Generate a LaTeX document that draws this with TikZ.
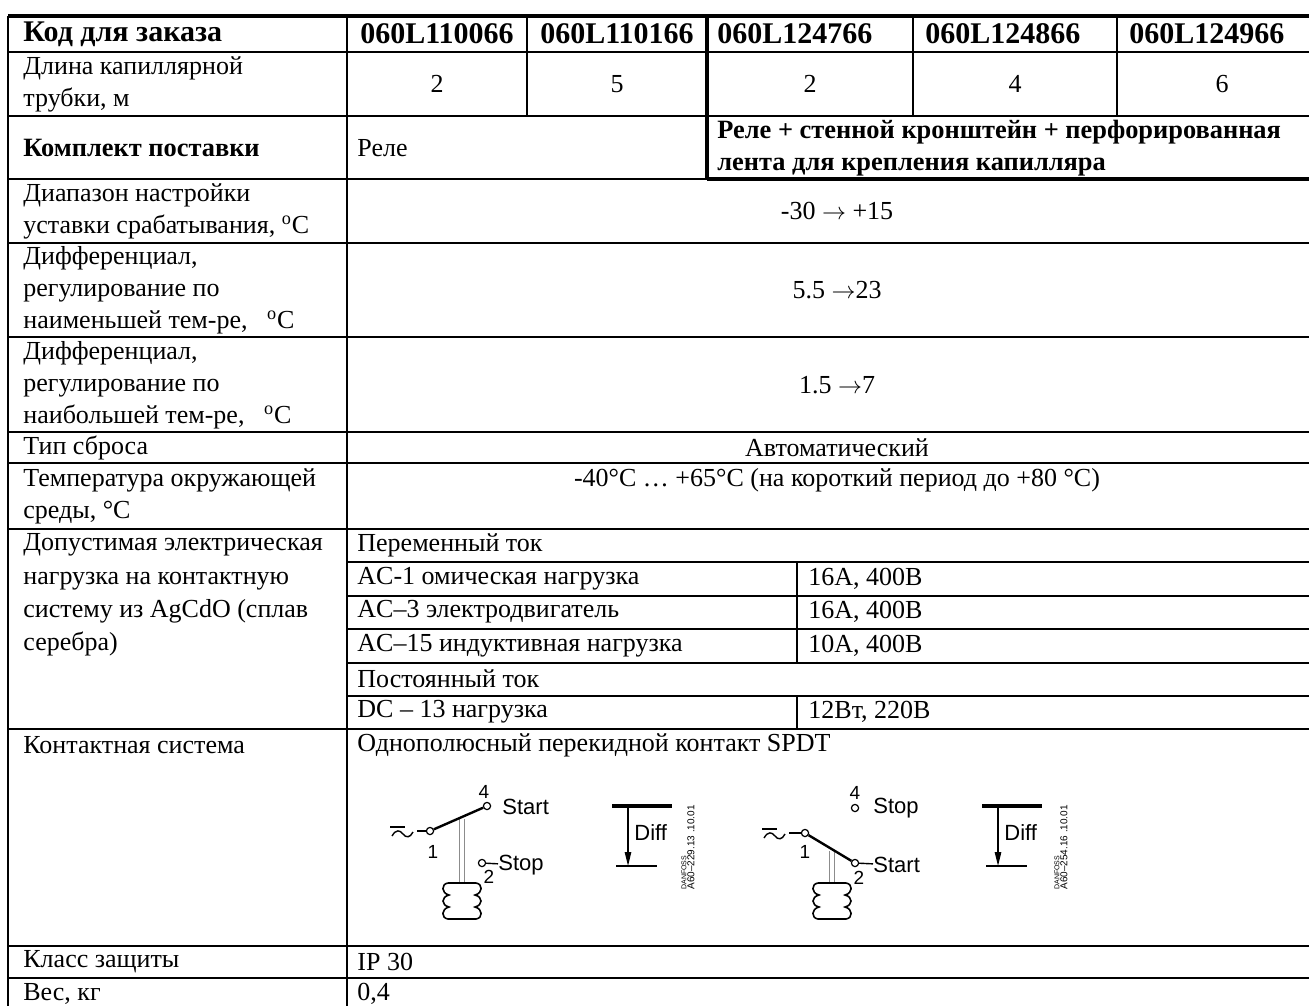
\documentclass[tikz,border=0pt]{standalone}
\usepackage{fontspec}
\setmainfont{Liberation Serif}
\newfontfamily\schemefont{Liberation Sans}
\usetikzlibrary{arrows.meta}

\begin{document}
\begin{tikzpicture}
  [x=0.5pt,y=-0.5pt,every node/.style={inner sep=0pt,anchor=west,font=\fontsize{13}{16}\selectfont}]
  \tikzstyle{rule} = [line width=1pt]
  \tikzstyle{heavy} = [line width=2pt]
  \tikzstyle{head} = [font=\fontsize{15}{16}\selectfont\bfseries]
  \tikzstyle{bold} = [font=\fontsize{13.2}{16}\selectfont\bfseries]
  \tikzstyle{mid} = [anchor=center]
  \tikzstyle{contact} = [circle,draw,anchor=center,minimum size=3.6pt,line width=0.6pt]
  \tikzstyle{lbl} = [font=\schemefont\fontsize{11}{12}\selectfont]
  \tikzstyle{num} = [anchor=center,font=\schemefont\fontsize{9.5}{10}\selectfont]
  \tikzstyle{stamp} = [rotate=90,font=\schemefont\fontsize{5}{6}\selectfont]
  \useasboundingbox (0,0) rectangle (1309,1006);

  % table rules
  \draw[heavy] (8,16) -- (1309,16);
  \foreach \y in {52,116,243,337,432,463,529,729,946,978}
    \draw[rule] (8,\y) -- (1309,\y);
  \foreach \y in {562,596,629,663,696}
    \draw[rule] (347,\y) -- (1309,\y);
  \draw[rule] (8,179) -- (707,179);
  \draw[heavy] (707,179) -- (1309,179);
  \foreach \x/\ya/\yb in {8/16/1006,347/16/1006,527/16/116,913/16/116,1117/16/116,797/562/663,797/696/729}
    \draw[rule] (\x,\ya) -- (\x,\yb);
  \draw[heavy] (707,15) -- (707,180);

  % first column
  \node[head] (code) at (23,34) {Код для заказа};
  \node[align=left] (tube) at (23,84) {Длина капиллярной\\трубки, м};
  \node[bold] (kit) at (23,148) {Комплект поставки};
  \node[align=left] (range) at (23,211) {Диапазон настройки\\уставки срабатывания, \textsuperscript{o}C};
  \node[align=left] (difflo) at (23,290) {Дифференциал,\\регулирование по\\наименьшей тем-ре, \ \ \textsuperscript{o}C};
  \node[align=left] (diffhi) at (23,385) {Дифференциал,\\регулирование по\\наибольшей тем-ре, \ \ \textsuperscript{o}C};
  \node (reset) at (23,448) {Тип сброса};
  \node[align=left] (amb) at (23,496) {Температура окружающей\\среды, °С};
  \node[align=left,font=\fontsize{13}{16.6}\selectfont] (load) at (23,595) {Допустимая электрическая\\нагрузка на контактную\\систему из AgCdO (сплав\\серебра)};
  \node (cont) at (23,745) {Контактная система};
  \node (ip) at (23,962) {Класс защиты};
  \node (mass) at (23,994) {Вес, кг};

  % values
  \foreach \x/\code [count=\i] in {437/060L110066,617/060L110166}
    \node[head,mid] (code\i) at (\x,34) {\code};
  \foreach \x/\code [count=\i from 3] in {717/060L124766,925/060L124866,1129/060L124966}
    \node[head] (code\i) at (\x,34) {\code};
  \foreach \x/\m [count=\i] in {437/2,617/5,810/2,1015/4,1222/6}
    \node[mid] (tube\i) at (\x,84) {\m};
  \node (kit1) at (357,148) {Реле};
  \node[bold,align=left] (kit2) at (717,148) {Реле + стенной кронштейн + перфорированная\\лента для крепления капилляра};
  \node[mid] (range1) at (837,211) {-30 $\rightarrow$ +15};
  \node[mid] (difflo1) at (837,290) {5.5 $\rightarrow$23};
  \node[mid] (diffhi1) at (837,385) {1.5 $\rightarrow$7};
  \node[mid] (reset1) at (837,448) {Автоматический};
  \node[mid] (amb1) at (837,480) {-40°C … +65°C (на короткий период до +80 °C)};
  \node (ac) at (357,545) {Переменный ток};
  \node (dc) at (357,679) {Постоянный ток};
  \foreach \y/\what/\rate [count=\i] in {579/{AC-1 омическая нагрузка}/{16А, 400В},612/{AC–3 электродвигатель}/{16А, 400В},646/{AC–15 индуктивная нагрузка}/{10А, 400В},712/{DC – 13 нагрузка}/{12Вт, 220В}}
  {
    \node (load\i) at (357,\y) {\what};
    \node (rate\i) at (808,\y) {\rate};
  }
  \node (cont1) at (357,745) {Однополюсный перекидной контакт SPDT};
  \node (ip1) at (357,962) {IP 30};
  \node (mass1) at (357,994) {0,4};

  % switch schemes
  \node[contact] (a1) at (430,831) {};
  \node[contact] (a4) at (487,806) {};
  \node[contact] (a2) at (482,863) {};
  \node[contact] (b1) at (805,833) {};
  \node[contact] (b4) at (855,808) {};
  \node[contact] (b2) at (855,863) {};
  \foreach \sx/\sy in {462/819,832/851}
  {
    \coordinate (st\sx) at (\sx,\sy);
    \coordinate (sb\sx) at (\sx,883);
    \draw[draw=black!45,double=white,double distance=1.6pt,line width=0.5pt] (st\sx) -- (sb\sx);
    \draw[line width=0.8pt] (\sx-14,883) -- (\sx+14,883)
      .. controls (\sx+21,884) and (\sx+21,893) .. (\sx+13,895)
      .. controls (\sx+21,897) and (\sx+21,905) .. (\sx+13,907)
      .. controls (\sx+21,909) and (\sx+21,918) .. (\sx+14,919)
      -- (\sx-14,919)
      .. controls (\sx-21,918) and (\sx-21,909) .. (\sx-13,907)
      .. controls (\sx-21,905) and (\sx-21,897) .. (\sx-13,895)
      .. controls (\sx-21,893) and (\sx-21,884) .. (\sx-14,883);
  }
  \draw[line width=1.2pt] (a1) -- (a4);
  \draw[line width=1.2pt] (b1) -- (b2);
  \foreach \ax/\ay/\c in {390/831/a1,762/833/b1}
  {
    \draw[line width=0.7pt] (\ax,\ay-4) -- (\ax+15,\ay-4);
    \draw[line width=0.7pt] (\ax+2,\ay+5) .. controls (\ax+6,\ay-2) and (\ax+10,\ay-1) .. (\ax+13,\ay+3)
      .. controls (\ax+16,\ay+7) and (\ax+20,\ay+7) .. (\ax+23,\ay+1);
    \coordinate (\c w) at (\ax+27,\ay);
    \draw[line width=0.7pt] (\c w) -- (\c);
  }
  \node[num] (n1a) at (433,852) {1};
  \node[num] (n4a) at (484,792) {4};
  \node[num] (n2a) at (489,877) {2};
  \node[num] (n1b) at (805,852) {1};
  \node[num] (n4b) at (855,793) {4};
  \node[num] (n2b) at (859,878) {2};
  \node[lbl] (start1) at (502,807) {Start};
  \node[lbl] (stop1) at (498,865) {Stop};
  \node[lbl] (stop2) at (873,808) {Stop};
  \node[lbl] (start2) at (873,865) {Start};
  \draw[line width=0.7pt] (a2) -- (stop1);
  \draw[line width=0.7pt] (b2) -- (start2);

  % differential marks
  \foreach \dx in {628,998}
  {
    \coordinate (dt\dx) at (\dx,806);
    \coordinate (db\dx) at (\dx,866);
    \draw[line width=1.6pt] (\dx-16,806) -- (\dx+44,806);
    \draw[line width=0.6pt] (\dx-12,866) -- (\dx+29,866);
    \draw[line width=0.7pt,-{Triangle[length=7pt,width=3.2pt]}] (dt\dx) -- (db\dx);
    \node[lbl] (diff\dx) at (\dx+6,833) {Diff};
  }
  \foreach \sx/\drw in {684/229.13,1057/254.16}
  {
    \node[stamp,font=\schemefont\fontsize{3.5}{4}\selectfont] (dan\sx) at (\sx,890) {DANFOSS};
    \node[stamp] (ref\sx) at (\sx+7,890) {A60–\drw\ .10.01};
  }

\end{tikzpicture}
\end{document}
